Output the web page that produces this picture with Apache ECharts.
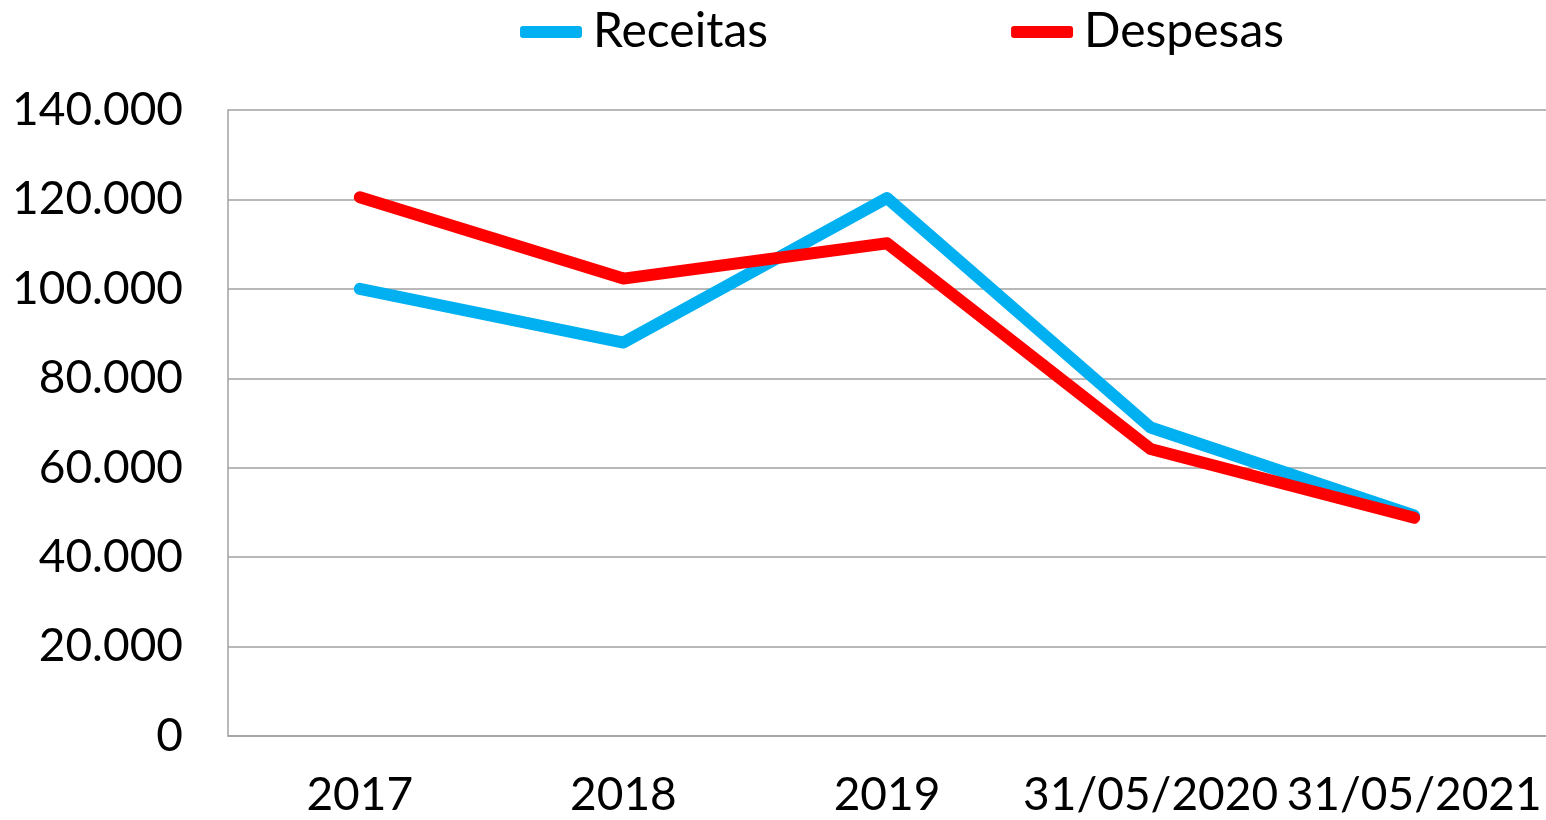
<!DOCTYPE html>
<html>
<head>
<meta charset="utf-8">
<script src="https://cdn.jsdelivr.net/npm/echarts@6/dist/echarts.min.js"></script>
<style>
  html, body { margin: 0; padding: 0; background: #fff; }
  #chart { width: 1546px; height: 820px; }
</style>
</head>
<body>
<div id="chart"></div>
<script>
var categories = ['2017', '2018', '2019', '31/05/2020', '31/05/2021'];
var receitas = [100000, 88000, 120300, 69000, 49300];
var despesas = [120500, 102300, 110200, 64200, 48800];
var yTicks = { min: 0, max: 140000, interval: 20000 };

var chartDom = document.getElementById('chart');
var myChart = echarts.init(chartDom);
var font = 'Lato';

function fmt(v) {
  return String(v).replace(/\B(?=(\d{3})+(?!\d))/g, '.');
}

var option = {
  animation: false,
  textStyle: { fontFamily: font },
  legend: {
    top: 3,
    left: 515,
    itemWidth: 62,
    itemHeight: 12,
    itemGap: 243,
    icon: 'roundRect',
    textStyle: { fontSize: 48, color: '#000', fontFamily: font, padding: [0, 0, 0, 6] },
    data: ['Receitas', 'Despesas']
  },
  grid: {
    left: 228,
    right: 0,
    top: 110,
    bottom: 84
  },
  xAxis: {
    type: 'category',
    data: categories,
    boundaryGap: true,
    axisLine: { lineStyle: { color: '#a0a0a0', width: 1.5 } },
    axisTick: { show: false },
    axisLabel: { fontSize: 46, color: '#000', margin: 36, fontFamily: font, interval: 0 }
  },
  yAxis: {
    type: 'value',
    min: yTicks.min,
    max: yTicks.max,
    interval: yTicks.interval,
    axisLine: { show: true, lineStyle: { color: '#a0a0a0', width: 1.5 } },
    axisTick: { show: false },
    splitLine: { lineStyle: { color: '#a0a0a0', width: 1.5 } },
    axisLabel: { fontSize: 46, color: '#000', margin: 45, fontFamily: font, formatter: fmt }
  },
  series: [
    {
      name: 'Receitas',
      type: 'line',
      data: receitas,
      showSymbol: false,
      symbol: 'none',
      color: '#00B0F0',
      lineStyle: { width: 12, cap: 'round', join: 'round' }
    },
    {
      name: 'Despesas',
      type: 'line',
      data: despesas,
      showSymbol: false,
      symbol: 'none',
      color: '#FF0000',
      lineStyle: { width: 12, cap: 'round', join: 'round' }
    }
  ]
};

option && myChart.setOption(option);
</script>
</body>
</html>
